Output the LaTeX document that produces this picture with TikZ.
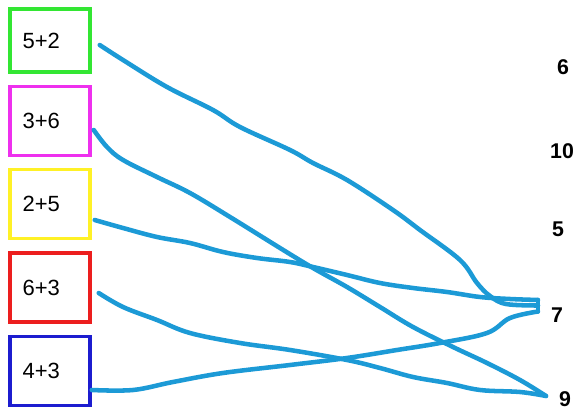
\documentclass[tikz,border=0pt]{standalone}
\usepackage{fontspec}
\setmainfont{Liberation Sans}
\usepackage{tikz}
\usetikzlibrary{positioning}
\definecolor{boxgreen}{HTML}{33E633}
\definecolor{boxpink}{HTML}{EE30EE}
\definecolor{boxyellow}{HTML}{FFF126}
\definecolor{boxred}{HTML}{EC1E1E}
\definecolor{boxblue}{HTML}{1C1CCF}
\definecolor{penblue}{HTML}{1C9AD6}

\tikzset{
  sumbox/.style={draw=#1,line width=2.6pt,text width=41pt,align=left,inner xsep=9.5pt,inner ysep=0pt,
    minimum height=52pt,font=\fontsize{16.5}{18}\selectfont},
  answer/.style={font=\fontsize{16}{18}\bfseries},
  link/.style={draw=penblue,line width=3.4pt,line cap=round,line join=round}
}

\begin{document}
\begin{tikzpicture}[x=.75pt,y=-.75pt]
\useasboundingbox (0,0) rectangle (579,409);
% sums on the left
\node[sumbox=boxgreen,minimum height=47pt] (s52) at (50,40.5) {5+2};
\node[sumbox=boxpink] (s36) at (50,121) {3+6};
\node[sumbox=boxyellow] (s25) at (50,204) {2+5};
\node[sumbox=boxred] (s63) at (50,287.5) {6+3};
\node[sumbox=boxblue] (s43) at (50,371) {4+3};
% answers on the right
\node[answer] (r6) at (563,67) {6};
\node[answer] (r10) at (562,151) {10};
\node[answer] (r5) at (558,229) {5};
\node[answer] (r7) at (557,315) {7};
\node[answer] (r9) at (565,399) {9};
\coordinate (t7a) at (538,300);
\coordinate (t7b) at (538,311.5);
\coordinate (t7) at (538,305.5);
\coordinate (t9) at (546,396);
% pen strokes
\draw[link] plot[smooth,tension=.6] coordinates {([shift={(8,4.5)}]s52.east) (123,60) (167,87) (213,110) (240,127) (290,150) (313,163) (347,180) (393,210) (420,230) (460,260) (477,283) (490,296) (506,304) (t7)};
\draw[link] plot[smooth,tension=.6] coordinates {([shift={(2,9)}]s36.east) (107,147) (123,160) (157,177) (190,193) (230,217) (280,248) (313,268) (347,287) (380,307) (413,327) (453,347) (487,363) (520,380) (t9)};
\draw[link] plot[smooth,tension=.6] coordinates {([shift={(3,16)}]s25.east) (123,228) (157,237) (190,243) (223,252) (257,258) (290,262) (313,267) (347,275) (380,283) (413,288) (447,292) (480,297) (510,299) (t7a)};
\draw[link] plot[smooth,tension=.6] coordinates {([shift={(7,5.5)}]s63.east) (123,307) (157,320) (190,333) (240,343) (290,350) (347,360) (380,368) (413,377) (447,383) (480,390) (520,392) (t9)};
\draw[link] plot[smooth,tension=.6] coordinates {([shift={(0,19)}]s43.east) (133,390) (173,382) (223,373) (290,365) (347,358) (397,350) (440,343) (487,333) (510,318) (t7b)};
\draw[link] (t7a) -- (t7b);
\end{tikzpicture}
\end{document}
